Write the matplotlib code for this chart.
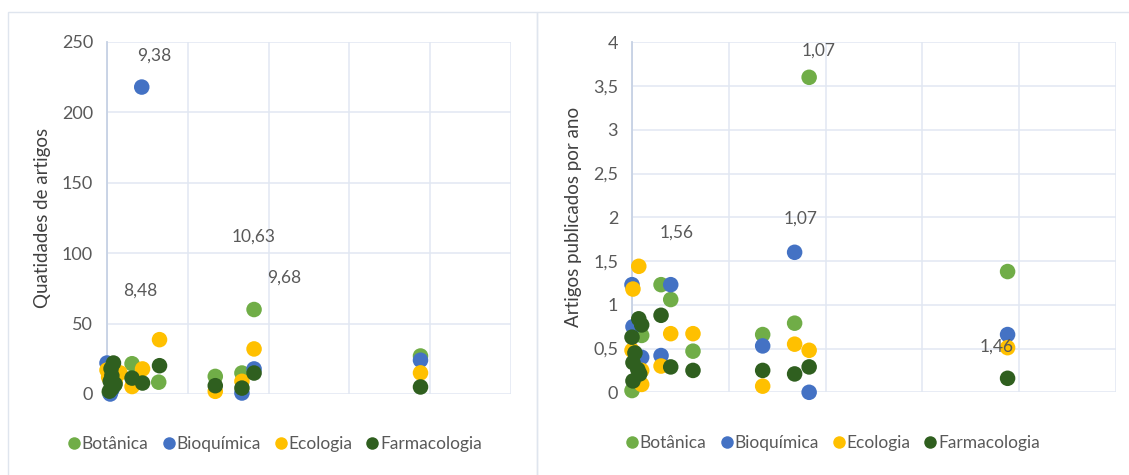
import matplotlib
matplotlib.use("Agg")
import matplotlib.pyplot as plt
from matplotlib.patches import Rectangle
from matplotlib.lines import Line2D
from matplotlib.ticker import FuncFormatter

plt.rcParams['font.family'] = ['Lato', 'DejaVu Sans']

# categories and colours
categories = ["Botânica", "Bioquímica", "Ecologia", "Farmacologia"]
colors = ["#70ad47", "#4472c4", "#ffc000", "#2f5f1f"]

# left panel: quantidade de artigos
qt_bot_x = [0.3, 0.9, 3.1, 6.4, 13.4, 16.7, 18.2, 38.8]
qt_bot_y = [1, 6, 21.5, 8.4, 12.5, 14.9, 60, 27]
qt_bio_x = [0.0, 0.4, 0.6, 4.3, 16.7, 18.2, 38.8]
qt_bio_y = [22, 0, 3, 218, 0.7, 17.8, 24]
qt_eco_x = [0.0, 0.2, 1.6, 1.0, 3.1, 4.4, 6.5, 13.4, 16.7, 18.2, 38.8]
qt_eco_y = [17, 12, 15, 9, 5.3, 17.8, 38.6, 1.9, 9, 32, 15]
qt_far_x = [0.8, 0.5, 0.6, 0.4, 1.0, 0.6, 0.3, 3.1, 4.4, 6.5, 13.4, 16.7,
            18.2, 38.8]
qt_far_y = [22, 18, 13, 9, 7, 4, 2, 11.3, 7.8, 20.1, 5.9, 4.2, 14.9, 5]

# right panel: artigos publicados por ano
pa_bot_x = [0.0, 1.0, 3.0, 4.0, 6.3, 13.5, 16.8, 18.3, 38.8]
pa_bot_y = [0.02, 0.65, 1.23, 1.06, 0.47, 0.66, 0.79, 3.6, 1.38]
pa_bio_x = [0.0, 0.1, 1.0, 3.0, 4.0, 13.5, 16.8, 18.3, 38.8]
pa_bio_y = [1.23, 0.75, 0.40, 0.42, 1.23, 0.53, 1.6, 0.0, 0.66]
pa_eco_x = [0.7, 0.1, 0.0, 1.0, 1.0, 3.0, 4.0, 6.3, 13.5, 16.8, 18.3, 38.8]
pa_eco_y = [1.44, 1.18, 0.48, 0.25, 0.09, 0.30, 0.67, 0.67, 0.07, 0.55,
            0.48, 0.51]
pa_far_x = [0.7, 1.0, 0.0, 0.3, 0.1, 0.6, 0.8, 0.1, 3.0, 4.0, 6.3, 13.5,
            16.8, 18.3, 38.8]
pa_far_y = [0.84, 0.77, 0.63, 0.45, 0.34, 0.26, 0.21, 0.13, 0.88, 0.29,
            0.25, 0.25, 0.21, 0.29, 0.16]

# data labels (text, x, y)
qt_labels = [("9,38", 5.85, 240), ("8,48", 4.1, 73.6),
             ("10,63", 18.2, 111.5), ("9,68", 21.9, 82.8)]
pa_labels = [("1,07", 19.3, 3.91), ("1,07", 17.4, 1.99),
             ("1,56", 4.6, 1.83), ("1,46", 37.7, 0.52)]

TXT = "#595959"
GRID = "#e1e7f2"


def style_axes(ax, ymax, ystep, ylabel, fmt):
    '''Light Excel-like styling of one scatter panel.'''
    ax.set_xlim(0, 50)
    ax.set_ylim(0, ymax)
    ax.set_xticks(range(0, 51, 10))
    ax.set_yticks([i * ystep for i in range(int(round(ymax / ystep)) + 1)])
    ax.yaxis.set_major_formatter(FuncFormatter(fmt))
    ax.tick_params(axis="x", length=0, labelbottom=False)
    ax.tick_params(axis="y", length=0, pad=10, labelsize=13,
                   labelcolor=TXT)
    ax.grid(True, color=GRID, lw=1.1)
    ax.set_axisbelow(True)
    for side in ["top", "right", "bottom"]:
        ax.spines[side].set_visible(False)
    ax.spines["left"].set_color("#c6d1e4")
    ax.spines["left"].set_linewidth(1.3)
    ax.set_ylabel(ylabel, fontsize=13.5, color="#404040", labelpad=8)


def draw_points(ax, series, labels):
    for (xs, ys), col in zip(series, colors):
        ax.scatter(xs, ys, s=125, color=col, edgecolors="none",
                   clip_on=False, zorder=3)
    for txt, x, y in labels:
        ax.text(x, y, txt, ha="center", va="center", fontsize=12.5,
                color=TXT)


def add_legend(ax, fig, xc, yc):
    handles = [Line2D([], [], ls="none", marker="o", ms=9, color=c,
                      markeredgewidth=0) for c in colors]
    ax.legend(handles, categories, loc="center", ncol=4, frameon=False,
              bbox_to_anchor=(xc, yc), bbox_transform=fig.transFigure,
              handlelength=0.7, handletextpad=0.1, columnspacing=0.8,
              fontsize=12.5, labelcolor=TXT)


fig = plt.figure(figsize=(11.29, 4.75), dpi=100)
W, H = 1129, 475

# panel frames
fig.add_artist(Rectangle((8 / W, -0.1), 529 / W, 1.1 - 12 / H,
                         transform=fig.transFigure, fill=False,
                         ec="#dfe5ee", lw=1))
fig.add_artist(Rectangle((537 / W, -0.1), 600 / W, 1.1 - 12 / H,
                         transform=fig.transFigure, fill=False,
                         ec="#dfe5ee", lw=1))

ax1 = fig.add_axes([107 / W, 1 - 394 / H, 404 / W, 352 / H])
ax2 = fig.add_axes([632 / W, 1 - 392.3 / H, 484 / W, 350 / H])

style_axes(ax1, 250, 50, "Quatidades de artigos",
           lambda v, p: "%d" % v)
style_axes(ax2, 4, 0.5, "Artigos publicados por ano",
           lambda v, p: ("%g" % v).replace(".", ","))

draw_points(ax1, [(qt_bot_x, qt_bot_y), (qt_bio_x, qt_bio_y),
                  (qt_eco_x, qt_eco_y), (qt_far_x, qt_far_y)], qt_labels)
draw_points(ax2, [(pa_bot_x, pa_bot_y), (pa_bio_x, pa_bio_y),
                  (pa_eco_x, pa_eco_y), (pa_far_x, pa_far_y)], pa_labels)

add_legend(ax1, fig, 275 / W, 1 - 444 / H)
add_legend(ax2, fig, 833 / W, 1 - 443 / H)

fig.savefig("out.png", dpi=100)
